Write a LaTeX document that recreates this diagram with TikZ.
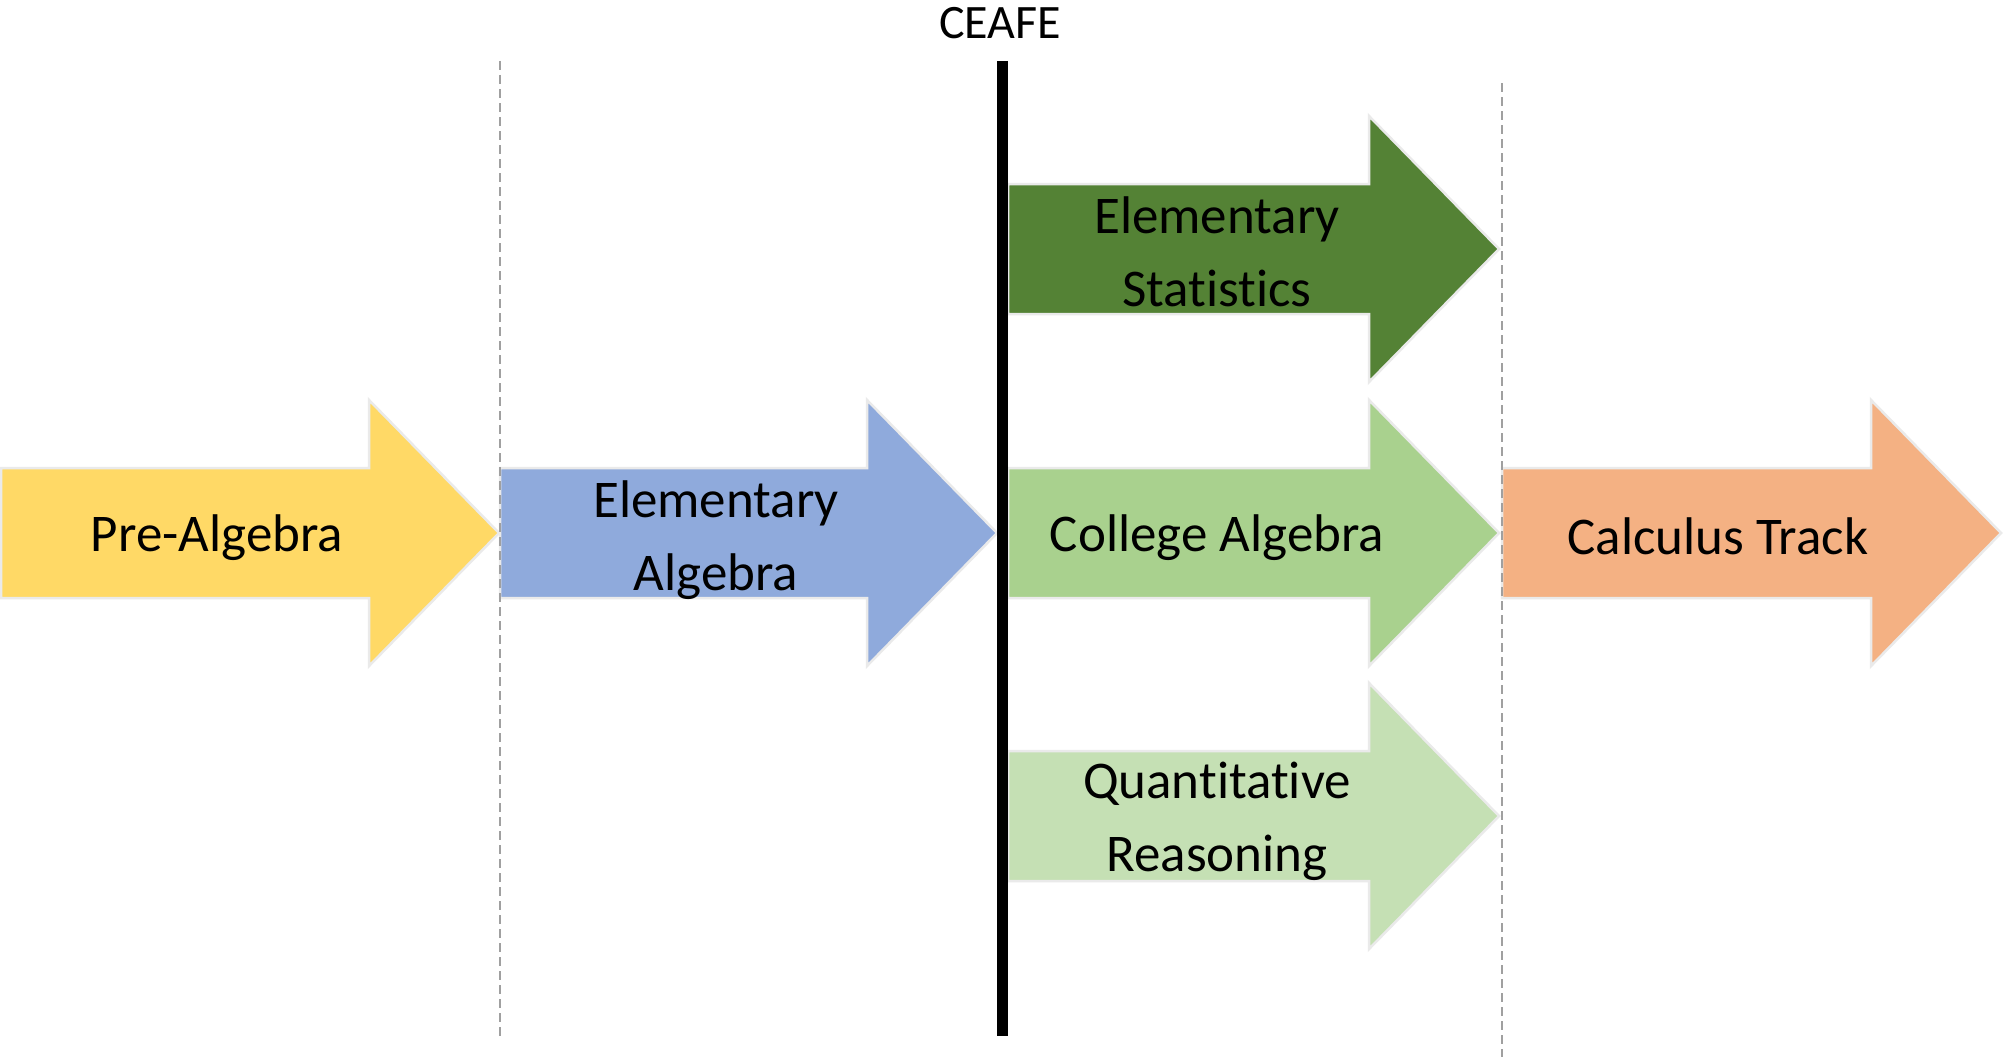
\documentclass[tikz,border=0pt]{standalone}
\usepackage{fontspec}
\setmainfont{Carlito}[Ligatures=NoCommon]
\definecolor{cYellow}{HTML}{FFD966}
\definecolor{cBlue}{HTML}{8FAADC}
\definecolor{cDkGreen}{HTML}{548235}
\definecolor{cGreen}{HTML}{A9D18E}
\definecolor{cLtGreen}{HTML}{C5E0B4}
\definecolor{cOrange}{HTML}{F4B183}
\definecolor{cEdge}{HTML}{EAEAEA}
\definecolor{cDash}{HTML}{A0A0A0}
\tikzset{
  bigarrow/.style={fill=#1, draw=cEdge, line width=2.5pt, line join=miter},
  lbl/.style={align=center, font=\fontsize{53}{73}\selectfont, text=black, inner sep=0pt},
  divider/.style={draw=cDash, line width=1.5pt, dash pattern=on 9pt off 5pt},
  ceafeline/.style={draw=black, line width=11pt},
}
% #1 left x, #2 tip x, #3 centre y, #4 colour
\newcommand\shapearrow[4]{%
  \path[bigarrow=#4] (#1,#3-65) -- (#2-130,#3-65) -- (#2-130,#3-133) -- (#2,#3)
     -- (#2-130,#3+133) -- (#2-130,#3+65) -- (#1,#3+65) -- cycle;}
\begin{document}
\begin{tikzpicture}[x=1pt,y=-1pt]
\useasboundingbox[fill=white] (0,0) rectangle (2005,1057);
\shapearrow{1}{499}{533}{cYellow}
\shapearrow{500}{997}{533}{cBlue}
\shapearrow{1008}{1499}{249}{cDkGreen}
\shapearrow{1008}{1499}{533}{cGreen}
\shapearrow{1008}{1499}{816}{cLtGreen}
\shapearrow{1502}{2001}{533}{cOrange}
\node[lbl] (pre) at (217,538) {Pre-Algebra};
\node[lbl] (ealg) at (716,540) {Elementary\\Algebra};
\node[lbl] (estat) at (1217,252) {Elementary\\Statistics};
\node[lbl] (calg) at (1217,538) {College Algebra};
\node[lbl] (qr) at (1217,821) {Quantitative\\Reasoning};
\node[lbl] (calc) at (1718,536) {Calculus Track};
\coordinate (d1t) at (500,61);
\coordinate (d1b) at (500,1036);
\coordinate (d2t) at (1502,83);
\coordinate (d2b) at (1502,1057);
\draw[divider] (d1t) -- (d1b);
\draw[divider] (d2t) -- (d2b);
\coordinate (ct) at (1002,61);
\coordinate (cb) at (1002,1036);
\draw[ceafeline] (ct) -- (cb);
\node[inner sep=0pt, font=\fontsize{48}{57}\selectfont] (ceafe) at (1000,23) {CEAFE};
\end{tikzpicture}
\end{document}
